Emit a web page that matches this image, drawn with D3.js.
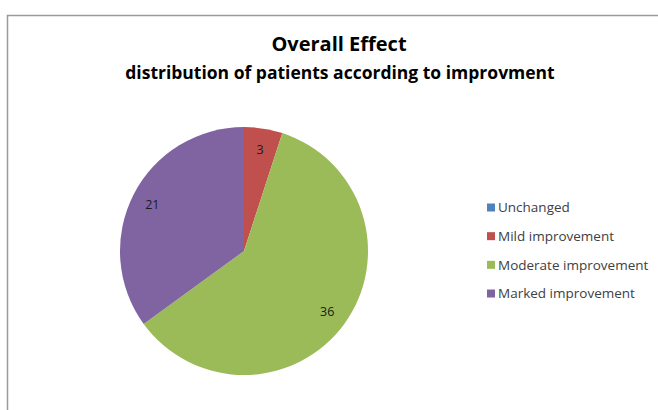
<!DOCTYPE html>
<html>
<head>
<meta charset="utf-8">
<script src="https://cdn.jsdelivr.net/npm/d3@7"></script>
<style>
  body { margin: 0; background: #fff; }
  text { font-family: "Open Sans", "Noto Sans", sans-serif; }
</style>
</head>
<body>
<div class="chart"></div>
<script>
const categories = ["Unchanged", "Mild improvement", "Moderate improvement", "Marked improvement"];
const values = [0, 3, 36, 21];
const colors = ["#4F81BD", "#C0504D", "#9BBB59", "#8064A2"];

const width = 658;
const height = 410;
const pieData = { cx: 244, cy: 251, r: 124 };

const svg = d3
  .select(".chart")
  .append("svg")
  .attr("width", width)
  .attr("height", height);

// frame (only left and top edges visible in the crop)
svg
  .append("path")
  .attr("d", `M7.5 ${height} L7.5 15.5 L${width} 15.5`)
  .attr("fill", "none")
  .attr("stroke", "#9a9a9a")
  .attr("stroke-width", 1.5);

svg
  .append("text")
  .attr("x", 339)
  .attr("y", 51)
  .attr("text-anchor", "middle")
  .attr("font-size", 20)
  .attr("font-weight", "bold")
  .attr("fill", "#000")
  .text("Overall Effect");

svg
  .append("text")
  .attr("x", 340)
  .attr("y", 79)
  .attr("text-anchor", "middle")
  .attr("font-size", 17.5)
  .attr("font-weight", "bold")
  .attr("fill", "#000")
  .text("distribution of patients according to improvment");

const color = d3.scaleOrdinal().domain(categories).range(colors);

const pie = d3.pie().sort(null).value((d) => d.value);
const arcs = pie(categories.map((c, i) => ({ name: c, value: values[i] })));

const arc = d3.arc().innerRadius(0).outerRadius(pieData.r);
const labelArc = d3.arc().innerRadius(pieData.r * 0.83).outerRadius(pieData.r * 0.83);

const g = svg
  .append("g")
  .attr("transform", `translate(${pieData.cx},${pieData.cy})`);

g.selectAll("path.slice")
  .data(arcs)
  .join("path")
  .attr("class", "slice")
  .attr("d", arc)
  .attr("fill", (d) => color(d.data.name));

g.selectAll("text.lbl")
  .data(arcs.filter((d) => d.value > 0))
  .join("text")
  .attr("class", "lbl")
  .attr("transform", (d) => `translate(${labelArc.centroid(d)})`)
  .attr("text-anchor", "middle")
  .attr("dy", "0.35em")
  .attr("font-size", 12.5)
  .attr("fill", "#1a1a1a")
  .text((d) => d.value);

const legend = svg
  .append("g")
  .attr("transform", "translate(487,207.5)");

const rowY = d3.scalePoint().domain(categories).range([0, 86]);

const rows = legend
  .selectAll("g")
  .data(categories)
  .join("g")
  .attr("transform", (d) => `translate(0,${rowY(d)})`);

rows
  .append("rect")
  .attr("x", 0)
  .attr("y", -4)
  .attr("width", 8)
  .attr("height", 8)
  .attr("fill", (d) => color(d));

rows
  .append("text")
  .attr("x", 11)
  .attr("dy", "0.35em")
  .attr("font-size", 13.5)
  .attr("fill", "#404040")
  .text((d) => d);
</script>
</body>
</html>
